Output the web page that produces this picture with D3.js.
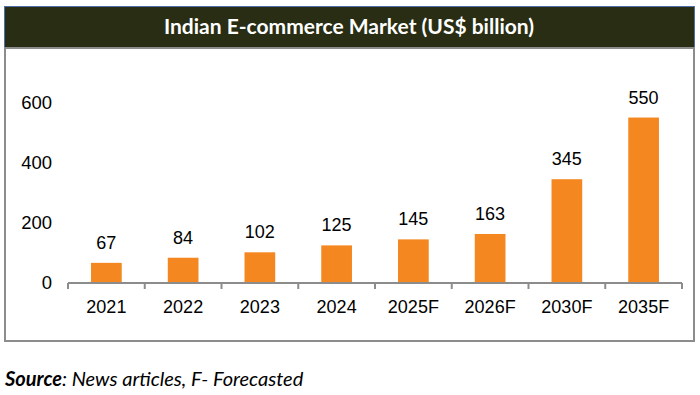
<!DOCTYPE html>
<html>
<head>
<meta charset="utf-8">
<script src="https://cdn.jsdelivr.net/npm/d3@7"></script>
<style>
  body { margin: 0; background: #fff; }
  svg { display: block; }
</style>
</head>
<body>
<svg id="chart" width="700" height="395"></svg>
<script>
// chart data
var years = ["2021", "2022", "2023", "2024", "2025F", "2026F", "2030F", "2035F"];
var market = [67, 84, 102, 125, 145, 163, 345, 550];
var yTicks = [0, 200, 400, 600];

var svg = d3.select("#chart");

// title bar
svg.append("rect")
  .attr("x", 4.5).attr("y", 6.5).attr("width", 690).attr("height", 41)
  .attr("fill", "#292d13").attr("stroke", "#4f6fa8").attr("stroke-width", 1);
svg.append("text")
  .attr("x", 349).attr("y", 34)
  .attr("text-anchor", "middle")
  .attr("font-family", "Lato, 'Open Sans', sans-serif")
  .attr("font-weight", "bold").attr("font-size", 21)
  .attr("fill", "#fff")
  .text("Indian E-commerce Market (US$ billion)");

// chart frame
svg.append("rect")
  .attr("x", 5).attr("y", 48).attr("width", 689).attr("height", 293)
  .attr("fill", "none").attr("stroke", "#8c8c8c").attr("stroke-width", 2);

var x = d3.scaleBand().domain(years).range([68, 682]).paddingInner(0.6).paddingOuter(0.3);
var y = d3.scaleLinear().domain([0, 600]).range([283, 102.5]);

var font = "'Liberation Sans', Arial, sans-serif";

// y axis (labels only)
var gy = svg.append("g").attr("transform", "translate(52,0)")
  .call(d3.axisLeft(y).tickValues(yTicks).tickSize(0).tickPadding(0));
gy.select(".domain").remove();
gy.selectAll("text").attr("font-family", font).attr("font-size", 18.5).attr("fill", "#000");

// bars
svg.append("g").selectAll("rect")
  .data(market)
  .join("rect")
  .attr("x", function (d, i) { return x(years[i]); })
  .attr("y", function (d) { return y(d); })
  .attr("width", x.bandwidth())
  .attr("height", function (d) { return y(0) - y(d); })
  .attr("fill", "#f58720");

// value labels
svg.append("g").selectAll("text")
  .data(market)
  .join("text")
  .attr("x", function (d, i) { return x(years[i]) + x.bandwidth() / 2; })
  .attr("y", function (d) { return y(d) - 14; })
  .attr("text-anchor", "middle")
  .attr("font-family", font).attr("font-size", 18).attr("fill", "#000")
  .text(function (d) { return d; });

// x axis with ticks between categories
var xEdges = d3.scaleLinear().domain([0, years.length]).range([68, 682]);
var gx = svg.append("g").attr("transform", "translate(0,283)");
gx.append("line")
  .attr("x1", 68).attr("x2", 682)
  .attr("stroke", "#8c8c8c").attr("stroke-width", 2);
gx.selectAll("line.tick")
  .data(d3.range(years.length + 1))
  .join("line")
  .attr("class", "tick")
  .attr("x1", function (d) { return xEdges(d); })
  .attr("x2", function (d) { return xEdges(d); })
  .attr("y1", 0).attr("y2", 6)
  .attr("stroke", "#8c8c8c").attr("stroke-width", 2);
gx.selectAll("text")
  .data(years)
  .join("text")
  .attr("x", function (d) { return x(d) + x.bandwidth() / 2; })
  .attr("y", 30)
  .attr("text-anchor", "middle")
  .attr("font-family", font).attr("font-size", 18).attr("fill", "#000")
  .text(function (d) { return d; });

// source note
var src = svg.append("text")
  .attr("x", 5).attr("y", 386)
  .attr("font-family", "Lato, 'Open Sans', sans-serif")
  .attr("font-size", 20).attr("font-style", "italic").attr("fill", "#000");
src.append("tspan").attr("font-weight", "bold").text("Source");
src.append("tspan").text(": News articles, F- Forecasted");
</script>
</body>
</html>
